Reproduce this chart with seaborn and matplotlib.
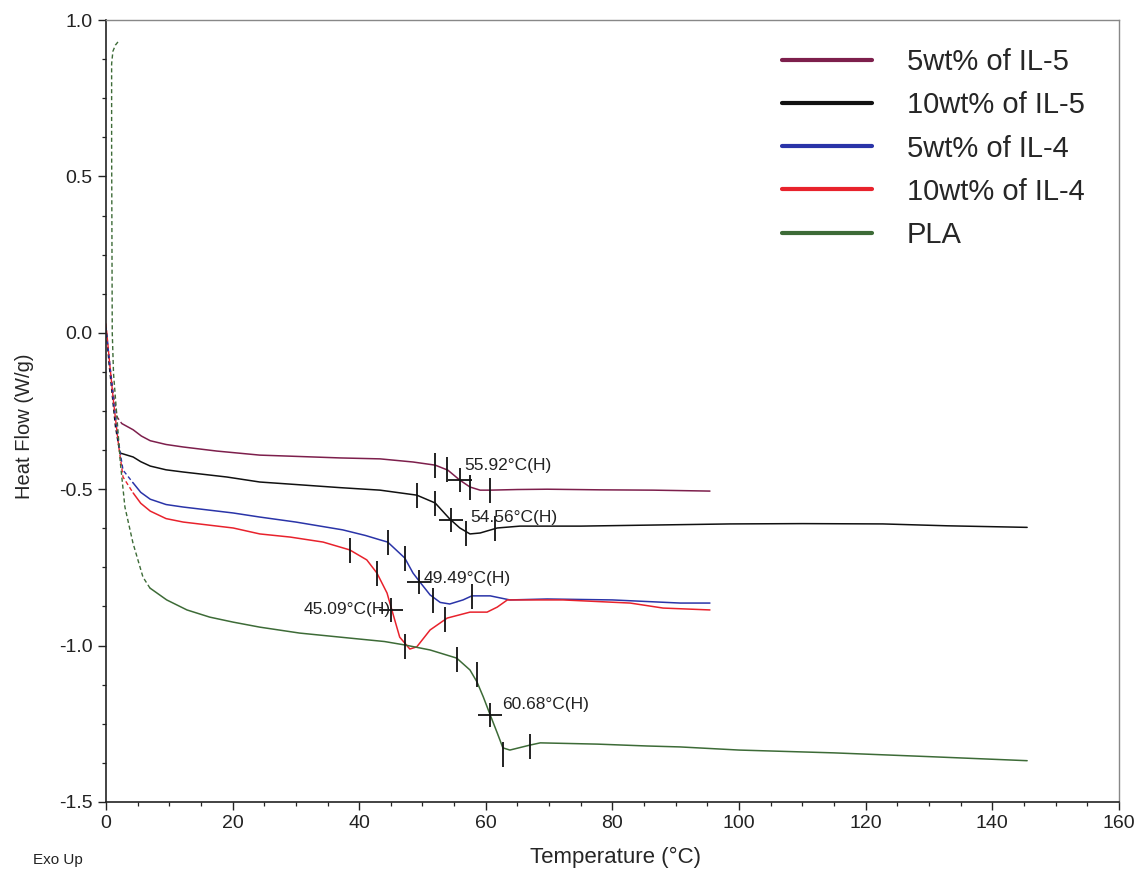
import numpy as np
import pandas as pd
import matplotlib
matplotlib.use("Agg")
import matplotlib.pyplot as plt
import seaborn as sns

# ---- data ----
samples = ["5wt% of IL-5", "10wt% of IL-5", "5wt% of IL-4", "10wt% of IL-4", "PLA"]
colors = ["#7d1f4c", "#111111", "#2a34a8", "#e8222c", "#3d6b37"]

# start-up transient (drawn dashed)
il5_5_start_T = [0, 0.6, 1.2, 1.8, 2.5]
il5_5_start_hf = [0.02, -0.10, -0.20, -0.27, -0.29]
il5_10_start_T = [0, 0.5, 1.0, 1.5, 2.2]
il5_10_start_hf = [0.02, -0.10, -0.20, -0.30, -0.384]
il4_5_start_T = [0, 0.6, 1.2, 2.0, 2.7, 4.3]
il4_5_start_hf = [0.02, -0.10, -0.22, -0.35, -0.439, -0.48]
il4_10_start_T = [0, 0.6, 1.2, 2.0, 2.7, 4.3]
il4_10_start_hf = [0.03, -0.10, -0.22, -0.36, -0.461, -0.512]
pla_start_T = [1.9, 1.5, 1.1, 0.9, 0.9, 0.95, 1.0, 1.2, 1.7, 2.3, 3.0, 4.27, 5.85, 6.95]
pla_start_hf = [0.93, 0.92, 0.90, 0.86, 0.6, 0.3, 0.0, -0.13, -0.26, -0.42, -0.557, -0.672, -0.781, -0.816]

# main traces
il5_5_T = [2.5, 4.3, 5.6, 7.0, 9.5, 12.2, 17.5, 24.3, 30, 37, 43.3, 48.5, 52, 54, 55.9, 57.5,
           59.1, 60.7, 65, 69.7, 78, 86.4, 95.4]
il5_5_hf = [-0.29, -0.31, -0.33, -0.345, -0.357, -0.365, -0.378, -0.391, -0.395, -0.40, -0.403,
            -0.413, -0.423, -0.439, -0.471, -0.493, -0.503, -0.503, -0.501, -0.50, -0.502,
            -0.503, -0.506]
il5_10_T = [2.2, 4.3, 5.5, 7, 9.5, 12.2, 19.1, 24.3, 30, 37, 43.3, 49.1, 52, 54.3, 55.9, 57.5,
            59.1, 61.8, 65.4, 75, 85, 98.6, 110, 122.7, 132.9, 145.5]
il5_10_hf = [-0.384, -0.397, -0.412, -0.426, -0.438, -0.445, -0.461, -0.477, -0.485, -0.495,
             -0.503, -0.519, -0.544, -0.595, -0.624, -0.643, -0.64, -0.624, -0.618, -0.618,
             -0.615, -0.611, -0.61, -0.611, -0.617, -0.622]
il4_5_T = [4.3, 5.5, 7, 9.5, 12.2, 20.1, 24.3, 30, 37.4, 41, 43.3, 44.5, 47.2, 48.5, 49.6,
           51.2, 52.8, 54.3, 56.4, 57.8, 60.7, 63.8, 69.7, 80, 90.7, 95.4]
il4_5_hf = [-0.48, -0.51, -0.532, -0.549, -0.557, -0.576, -0.589, -0.605, -0.63, -0.648,
            -0.662, -0.669, -0.72, -0.768, -0.797, -0.838, -0.862, -0.867, -0.854, -0.841,
            -0.841, -0.854, -0.851, -0.854, -0.864, -0.864]
il4_10_T = [4.3, 5.5, 7, 9.5, 12.2, 20.1, 24.3, 29.1, 34.3, 38.5, 41.2, 42.8, 44.4, 45.3,
            46.4, 48, 49.1, 51.2, 53.9, 57.5, 60.2, 61.8, 63.4, 72.2, 82.8, 88, 95.4]
il4_10_hf = [-0.512, -0.545, -0.57, -0.594, -0.605, -0.624, -0.643, -0.653, -0.669, -0.694,
             -0.726, -0.768, -0.832, -0.896, -0.973, -1.011, -1.004, -0.95, -0.912, -0.893,
             -0.893, -0.877, -0.854, -0.854, -0.864, -0.88, -0.886]
pla_T = [6.95, 9.6, 12.8, 16.4, 20.1, 24.3, 30.6, 38.5, 44, 47.2, 51.2, 55.4, 57.5, 58.6,
         59.6, 60.7, 61.8, 62.7, 63.8, 67, 68.6, 77.6, 85.5, 90.7, 100, 115, 130, 145.5]
pla_hf = [-0.816, -0.854, -0.886, -0.909, -0.925, -0.941, -0.96, -0.976, -0.987, -0.998,
          -1.014, -1.04, -1.078, -1.116, -1.164, -1.222, -1.279, -1.327, -1.334, -1.318,
          -1.311, -1.315, -1.321, -1.324, -1.334, -1.343, -1.355, -1.368]

# analysis marks (onset/end ticks and midpoint crosses)
tick_T = [[52.0, 53.9, 57.5, 60.7], [49.1, 52.0, 56.9, 61.5], [44.5, 47.2, 51.7, 57.8],
          [38.5, 42.8, 47.2, 53.6], [55.4, 58.6, 62.7, 67.0]]
tick_hf = [[-0.423, -0.435, -0.493, -0.503], [-0.519, -0.544, -0.64, -0.625],
           [-0.669, -0.72, -0.854, -0.841], [-0.694, -0.768, -1.0, -0.915],
           [-1.043, -1.09, -1.347, -1.32]]
mid_T = [55.92, 54.56, 49.49, 45.09, 60.68]
mid_hf = [-0.471, -0.60, -0.797, -0.886, -1.222]
mid_labels = ["55.92°C(H)", "54.56°C(H)", "49.49°C(H)", "45.09°C(H)", "60.68°C(H)"]
label_T = [56.6, 57.6, 50.2, 45.0, 62.6]
label_hf = [-0.425, -0.59, -0.784, -0.886, -1.187]
label_ha = ["left", "left", "left", "right", "left"]

starts = [(il5_5_start_T, il5_5_start_hf), (il5_10_start_T, il5_10_start_hf),
          (il4_5_start_T, il4_5_start_hf), (il4_10_start_T, il4_10_start_hf),
          (pla_start_T, pla_start_hf)]
mains = [(il5_5_T, il5_5_hf), (il5_10_T, il5_10_hf), (il4_5_T, il4_5_hf),
         (il4_10_T, il4_10_hf), (pla_T, pla_hf)]

main_df = pd.concat([pd.DataFrame({"T": t, "HF": h, "sample": s})
                     for s, (t, h) in zip(samples, mains)], ignore_index=True)
start_df = pd.concat([pd.DataFrame({"T": t, "HF": h, "sample": s})
                      for s, (t, h) in zip(samples, starts)], ignore_index=True)

sns.set_style("ticks")
plt.rcParams["font.family"] = ["Liberation Sans", "DejaVu Sans"]
plt.rcParams["axes.unicode_minus"] = False

fig = plt.figure(figsize=(11.39, 8.72), dpi=100)
ax = fig.add_axes([0.093, 0.0803, 0.8894, 0.8967])

palette = dict(zip(samples, colors))
sns.lineplot(data=main_df, x="T", y="HF", hue="sample", palette=palette, sort=False,
             estimator=None, linewidth=1.1, ax=ax)
for s in samples:
    d = start_df[start_df["sample"] == s]
    ax.plot(d["T"], d["HF"], color=palette[s], linestyle=(0, (3, 2)), linewidth=1.0)

for i in range(len(samples)):
    ax.plot(tick_T[i], tick_hf[i], linestyle="none", marker="|", markersize=18,
            markeredgewidth=1.3, color="#111111")
    ax.plot([mid_T[i]], [mid_hf[i]], linestyle="none", marker="+", markersize=17,
            markeredgewidth=1.3, color="#111111")
    ax.text(label_T[i], label_hf[i], mid_labels[i], ha=label_ha[i], va="center",
            fontsize=12.5, color="#222222")

ax.set_xlim(0, 160)
ax.set_ylim(-1.5, 1.0)
ax.set_xticks(np.arange(0, 161, 20))
ax.set_xticks(np.arange(0, 161, 5), minor=True)
ax.set_yticks([-1.5, -1.0, -0.5, 0.0, 0.5, 1.0])
ax.set_yticks(np.arange(-1.5, 1.01, 0.125), minor=True)
ax.set_yticklabels(["-1.5", "-1.0", "-0.5", "0.0", "0.5", "1.0"])
ax.tick_params(axis="both", which="major", labelsize=14, length=6, width=1.0, colors="#222222")
ax.tick_params(axis="both", which="minor", length=3, width=0.9, colors="#222222")
for side in ["left", "bottom"]:
    ax.spines[side].set_color("#222222")
    ax.spines[side].set_linewidth(1.2)
for side in ["top", "right"]:
    ax.spines[side].set_color("#888888")
    ax.spines[side].set_linewidth(1.0)

ax.set_xlabel("Temperature (°C)", fontsize=16)
ax.set_ylabel("Heat Flow (W/g)", fontsize=14.5)
ax.xaxis.set_label_coords(0.503, -0.058)
ax.yaxis.set_label_coords(-0.071, 0.48)
fig.text(33 / 1139, 1 - 860 / 872, "Exo Up", fontsize=11, va="center", ha="left",
         color="#222222")

leg = ax.legend(loc="upper left", bbox_to_anchor=(0.667, 0.964), frameon=False,
                fontsize=21, handlelength=3.1, handletextpad=1.2, labelspacing=0.52,
                borderpad=0, borderaxespad=0, title=None)
for line in leg.get_lines():
    line.set_linewidth(3)

fig.savefig("out.png", dpi=100)
